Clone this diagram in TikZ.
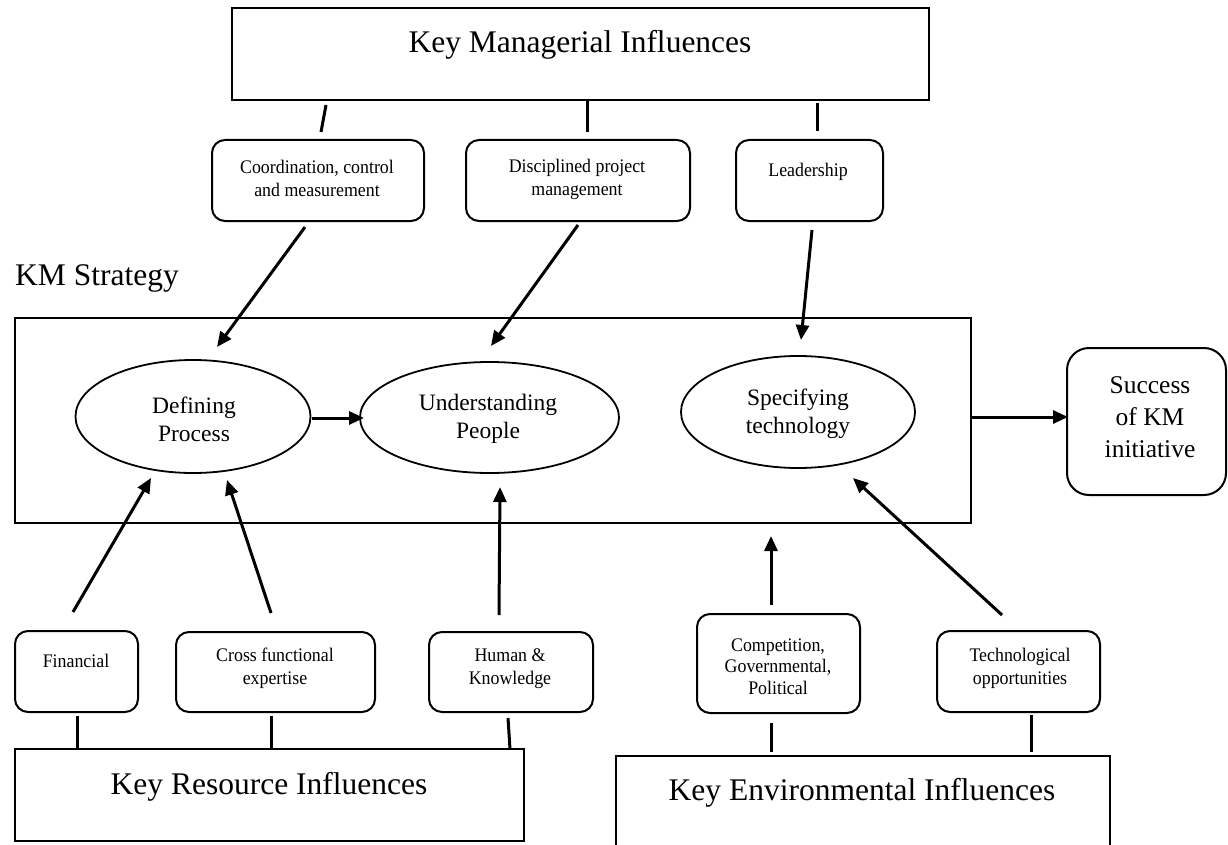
\documentclass[tikz,border=0pt]{standalone}
\usepackage{fontspec}
\setmainfont{Liberation Serif}
\newfontfamily\narrowserif[FakeStretch=0.93]{Liberation Serif}
\usetikzlibrary{arrows.meta,shapes.geometric}
\begin{document}
\begin{tikzpicture}[x=1pt,y=-1pt,
  bigbox/.style={draw, line width=2pt, rectangle, inner sep=0pt},
  rbox/.style={draw, line width=2pt, rectangle, rounded corners=13pt, inner sep=0pt},
  oval/.style={draw, line width=1.8pt, ellipse, inner sep=0pt},
  link/.style={line width=3pt},
  arr/.style={line width=3pt, -{Triangle[length=15pt,width=13pt]}},
  titletxt/.style={inner sep=0pt, font=\fontsize{31.5}{36}\selectfont},
  elltxt/.style={inner sep=0pt, align=center, font=\fontsize{23.5}{28}\selectfont},
  succtxt/.style={inner sep=0pt, align=center, font=\fontsize{25.5}{32}\selectfont},
  smalltxt/.style={inner sep=0pt, align=center, font=\narrowserif\fontsize{19.2}{23}\selectfont},
  smalltxtb/.style={inner sep=0pt, align=center, font=\narrowserif\fontsize{19.2}{21.5}\selectfont}]
\useasboundingbox (0,0) rectangle (1228,845);
\clip (0,0) rectangle (1228,845);
\fill[white] (0,0) rectangle (1228,845);

% top: managerial influences
\node[bigbox, minimum width=697pt, minimum height=92pt] (kmi) at (580.5,54) {};
\node[titletxt] (kmiT) at (580,45) {Key Managerial Influences};

\node[rbox, minimum width=212pt, minimum height=81pt] (coord) at (318,180.5) {};
\node[smalltxt] (coordT) at (317,178.5) {Coordination, control\\and measurement};
\node[rbox, minimum width=224pt, minimum height=81pt] (disc) at (578,180.5) {};
\node[smalltxt] (discT) at (577,179) {Disciplined project\\management};
\node[rbox, minimum width=147pt, minimum height=81pt] (lead) at (809.5,180.5) {};
\node[smalltxt] (leadT) at (808,172) {Leadership};

% KM strategy
\node[titletxt, anchor=west] (kmlabel) at (15,278) {KM Strategy};
\node[bigbox, minimum width=956pt, minimum height=205pt] (kmbox) at (493,420.5) {};
\node[oval, minimum width=235pt, minimum height=113pt] (def) at (193,416.5) {};
\node[elltxt] (defT) at (194,419) {Defining\\Process};
\node[oval, minimum width=259pt, minimum height=111pt] (und) at (489.5,417.5) {};
\node[elltxt] (undT) at (488,419) {Understanding\\People};
\node[oval, minimum width=234pt, minimum height=112pt] (spec) at (798,412) {};
\node[elltxt] (specT) at (798,414) {Specifying\\technology};

\node[rbox, rounded corners=22pt, minimum width=159pt, minimum height=147pt] (succ) at (1146.5,421.5) {};
\node[succtxt] (succT) at (1150,417) {Success\\of KM\\initiative};

% bottom boxes
\node[rbox, minimum width=123pt, minimum height=81pt] (fin) at (76.5,671.5) {};
\node[smalltxt] (finT) at (76,661) {Financial};
\node[rbox, minimum width=199pt, minimum height=80pt] (cross) at (275.5,672) {};
\node[smalltxt] (crossT) at (275,668.5) {Cross functional\\expertise};
\node[rbox, minimum width=164pt, minimum height=80pt] (human) at (511,672) {};
\node[smalltxt] (humanT) at (510,668.5) {Human \&\\Knowledge};
\node[rbox, minimum width=163pt, minimum height=99pt] (comp) at (778.5,663.5) {};
\node[smalltxtb] (compT) at (778,666.5) {Competition,\\Governmental,\\Political};
\node[rbox, minimum width=163pt, minimum height=81pt] (tech) at (1018.5,671.5) {};
\node[smalltxt] (techT) at (1020,668.5) {Technological\\opportunities};

\node[bigbox, minimum width=509pt, minimum height=92pt] (kri) at (269.5,795) {};
\node[titletxt] (kriT) at (269,787) {Key Resource Influences};
\node[bigbox, minimum width=494pt, minimum height=120pt] (kei) at (863,816) {};
\node[titletxt] (keiT) at (862,793) {Key Environmental Influences};

% connector end points
\coordinate (s1a) at (326,105); \coordinate (s1b) at (321,132);
\coordinate (s2a) at (587,100); \coordinate (s2b) at (587,132);
\coordinate (s3a) at (817,103); \coordinate (s3b) at (817,131);
\coordinate (b1a) at (77,716);  \coordinate (b1b) at (77,749);
\coordinate (b2a) at (271,716); \coordinate (b2b) at (271,749);
\coordinate (b3a) at (508,718); \coordinate (b3b) at (510,749);
\coordinate (b4a) at (771,723); \coordinate (b4b) at (771,752);
\coordinate (b5a) at (1031,715); \coordinate (b5b) at (1031,752);

\coordinate (coordOut) at (305,227); \coordinate (defIn1) at (217,347);
\coordinate (discOut) at (578,225); \coordinate (undIn1) at (491,346);
\coordinate (leadOut) at (812,230); \coordinate (specIn1) at (801,340);
\coordinate (defOut) at (312,418); \coordinate (undIn2) at (364,418);
\coordinate (kmOut) at (971,417); \coordinate (succIn) at (1068,417);
\coordinate (finOut) at (73,612); \coordinate (defIn2) at (151,478);
\coordinate (crossOut) at (271,613); \coordinate (defIn3) at (227,480);
\coordinate (humanOut) at (499,615); \coordinate (undIn3) at (500,487);
\coordinate (compOut) at (771,605); \coordinate (kmIn) at (771,536);
\coordinate (techOut) at (1002,615); \coordinate (specIn2) at (853,478);

% stubs
\draw[link] (s1a) -- (s1b);
\draw[link] (s2a) -- (s2b);
\draw[link] (s3a) -- (s3b);
\draw[link] (b1a) -- (b1b);
\draw[link] (b2a) -- (b2b);
\draw[link] (b3a) -- (b3b);
\draw[link] (b4a) -- (b4b);
\draw[link] (b5a) -- (b5b);

% arrows
\draw[arr] (coordOut) -- (defIn1);
\draw[arr] (discOut) -- (undIn1);
\draw[arr] (leadOut) -- (specIn1);
\draw[arr] (defOut) -- (undIn2);
\draw[arr] (kmOut) -- (succIn);
\draw[arr] (finOut) -- (defIn2);
\draw[arr] (crossOut) -- (defIn3);
\draw[arr] (humanOut) -- (undIn3);
\draw[arr] (compOut) -- (kmIn);
\draw[arr] (techOut) -- (specIn2);
\end{tikzpicture}
\end{document}
